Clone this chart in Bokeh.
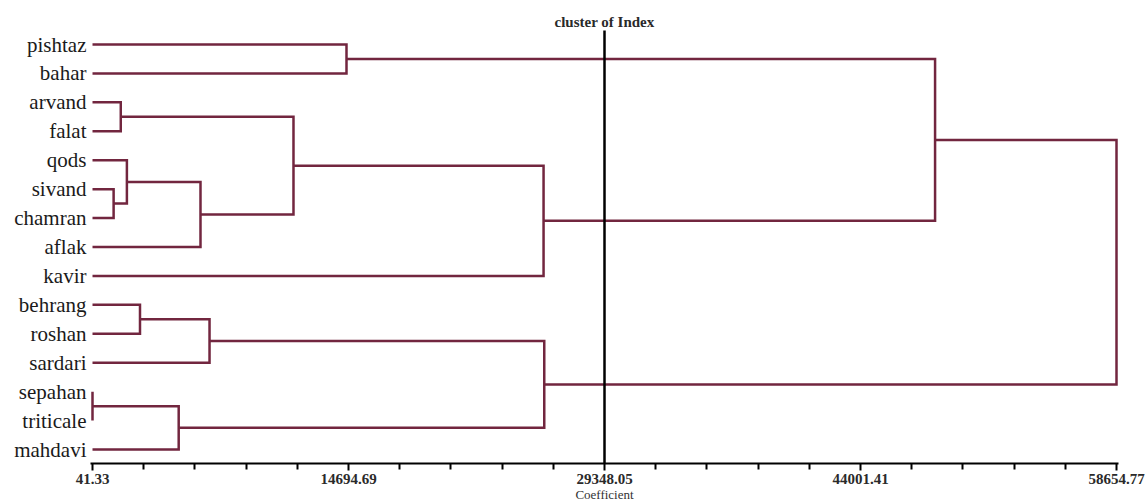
from bokeh.plotting import figure
from bokeh.models import Range1d, FixedTicker, CustomJSTickFormatter
from bokeh.core.properties import value
from bokeh.embed import file_html
from bokeh.resources import INLINE
import numpy as np

# ---- data ----
leaves = ["pishtaz", "bahar", "arvand", "falat", "qods", "sivand", "chamran",
          "aflak", "kavir", "behrang", "roshan", "sardari", "sepahan",
          "triticale", "mahdavi"]

merge_names = ["c1", "c2", "c3", "c4", "c5", "c6", "c7", "c8",
               "c9", "c10", "c11", "c12", "c13", "c14"]
merge_left = ["pishtaz", "arvand", "sivand", "qods", "c4", "c2", "c6", "c1",
              "behrang", "c9", "sepahan", "c11", "c10", "c8"]
merge_right = ["bahar", "falat", "chamran", "c3", "aflak", "c5", "kavir", "c7",
               "roshan", "sardari", "triticale", "mahdavi", "c12", "c13"]
merge_height = [14580.0, 1660.0, 1250.0, 2010.0, 6223.0, 11546.0, 25860.0, 48270.0,
                2760.0, 6740.0, 41.33, 4975.0, 25900.0, 58654.77]

major_ticks = [41.33, 14694.69, 29348.05, 44001.41, 58654.77]
cut_value = 29348.05
title_text = "cluster of Index"
x_label = "Coefficient"

# ---- geometry from data ----
xmin, xmax = major_ticks[0], major_ticks[-1]
FRAME_W = 1028
px = (xmax - xmin) / 1024.0
x_range = Range1d(xmin - 2 * px, xmax + 2 * px)

ROW = 28.93
TOP = 15
FRAME_H = 448
ytop = (TOP - 44) / ROW
ybot = ytop + FRAME_H / ROW

pos = {name: (xmin, i) for i, name in enumerate(leaves)}
xs, ys = [], []
for name, l, r, h in zip(merge_names, merge_left, merge_right, merge_height):
    xl, yl = pos[l]
    xr, yr = pos[r]
    xs.append([xl, h, h, xr])
    ys.append([yl, yl, yr, yr])
    pos[name] = (h, (yl + yr) / 2.0)

minor_ticks = []
for a, b in zip(major_ticks[:-1], major_ticks[1:]):
    minor_ticks.extend(list(np.linspace(a, b, 6)[1:-1]))

p = figure(frame_width=FRAME_W, frame_height=FRAME_H,
           x_range=x_range, y_range=Range1d(ybot, ytop),
           output_backend="svg", toolbar_location=None,
           min_border_left=90, min_border_right=29, min_border_top=TOP,
           min_border_bottom=0)
p.grid.visible = False
p.outline_line_color = None
p.background_fill_color = "white"
p.border_fill_color = "white"

LINE = "#72263f"
p.multi_line(xs, ys, line_color=LINE, line_width=2.5, line_join="miter")

p.segment(x0=[cut_value], y0=[(30 - 44) / ROW], x1=[cut_value], y1=[ybot],
          line_color="black", line_width=2.5)

p.text(x=[cut_value], y=[(21 - 44) / ROW], text=[title_text],
       text_font=value("Liberation Serif"), text_font_style="bold",
       text_font_size="15px", text_align="center", text_baseline="middle",
       text_color="#2a2a2a")

# x axis
xa = p.xaxis[0]
xa.ticker = FixedTicker(ticks=major_ticks, minor_ticks=minor_ticks)
xa.formatter = CustomJSTickFormatter(code="return tick.toFixed(2);")
xa.axis_line_color = "black"
xa.axis_line_width = 2
xa.major_tick_line_color = "black"
xa.major_tick_line_width = 2
xa.major_tick_in = 0
xa.major_tick_out = 7
xa.minor_tick_line_color = "black"
xa.minor_tick_line_width = 2
xa.minor_tick_in = 0
xa.minor_tick_out = 6
xa.major_label_text_font = "Liberation Serif"
xa.major_label_text_font_style = "bold"
xa.major_label_text_font_size = "15px"
xa.major_label_text_color = "#2a2a2a"
xa.major_label_standoff = 3
xa.axis_label = x_label
xa.axis_label_text_font = "Liberation Serif"
xa.axis_label_text_font_style = "normal"
xa.axis_label_text_font_size = "13px"
xa.axis_label_text_color = "#333333"
xa.axis_label_standoff = 0

# y axis: leaf names
ya = p.yaxis[0]
ya.ticker = FixedTicker(ticks=list(range(len(leaves))), minor_ticks=[])
ya.major_label_overrides = {i: n for i, n in enumerate(leaves)}
ya.axis_line_color = None
ya.major_tick_line_color = None
ya.minor_tick_line_color = None
ya.major_tick_out = 0
ya.major_tick_in = 0
ya.major_label_standoff = 4
ya.major_label_text_font = "Liberation Serif"
ya.major_label_text_font_size = "21px"
ya.major_label_text_color = "#1a1a1a"

open("out.html", "w").write(file_html(p, INLINE))
